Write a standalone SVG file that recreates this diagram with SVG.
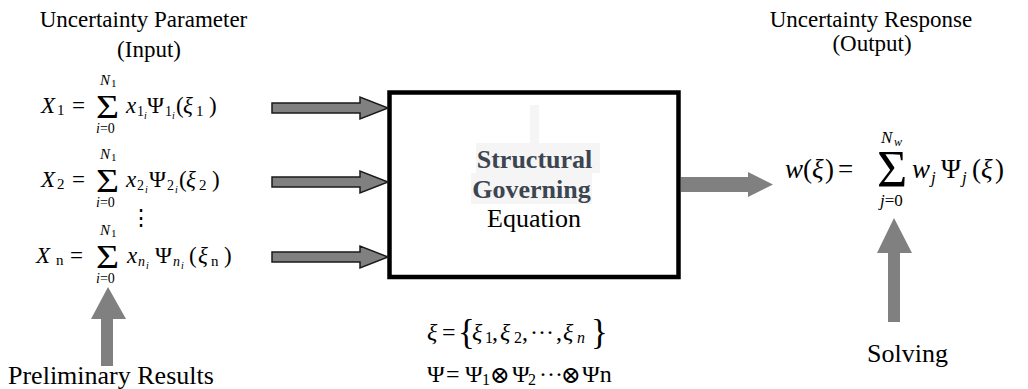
<svg xmlns="http://www.w3.org/2000/svg" width="1028" height="389" viewBox="0 0 1028 389">
<style>
.t{font-family:"Liberation Serif","Times New Roman",serif;fill:#000}
.i{font-style:italic}
.s{font-family:"DejaVu Serif","Liberation Serif",serif;fill:#000}
.arr{fill:#808080}
.arrs{fill:#808080;stroke:#1a1a1a;stroke-width:1.5}
.hl{fill:#f5f5f5}
</style>
<rect width="1028" height="389" fill="#fff"/>
<g id="header-input">
<text class="t" x="143.5" y="27" font-size="23" text-anchor="middle">Uncertainty Parameter</text>
<text class="t" x="149" y="57" font-size="23" text-anchor="middle">(Input)</text>
</g>
<g id="header-output">
<text class="t" x="871" y="27" font-size="23" text-anchor="middle">Uncertainty Response</text>
<text class="t" x="872" y="51" font-size="23" text-anchor="middle">(Output)</text>
</g>
<g id="eq-x1" font-size="23">
<text class="t i" x="41" y="113">X</text>
<text class="t" x="57" y="115" font-size="15">1</text>
<text class="t" x="72" y="113">=</text>
<text class="t" transform="translate(96,118) scale(1.2,1)" font-size="33">Σ</text>
<text class="t i" x="100" y="85" font-size="15">N</text>
<text class="t" x="111" y="87" font-size="11">1</text>
<text class="t" x="96" y="133" font-size="14"><tspan class="i">i</tspan>=0</text>
<text class="t i" x="126" y="113">x</text>
<text class="t" x="137" y="116" font-size="14">1</text>
<text class="t i" x="144" y="119" font-size="10">i</text>
<text class="t" x="147" y="113">Ψ</text>
<text class="t" x="165" y="116" font-size="14">1</text>
<text class="t i" x="172" y="119" font-size="10">i</text>
<text class="t" x="176" y="113">(</text>
<text class="t i" x="183" y="113">ξ</text>
<text class="t" x="196" y="116" font-size="15">1</text>
<text class="t" x="209" y="113">)</text>
</g>
<g id="eq-x2" font-size="23">
<text class="t i" x="41" y="187">X</text>
<text class="t" x="57" y="189" font-size="15">2</text>
<text class="t" x="72" y="187">=</text>
<text class="t" transform="translate(96,192) scale(1.2,1)" font-size="33">Σ</text>
<text class="t i" x="100" y="159" font-size="15">N</text>
<text class="t" x="111" y="161" font-size="11">1</text>
<text class="t" x="96" y="207" font-size="14"><tspan class="i">i</tspan>=0</text>
<text class="t i" x="126" y="187">x</text>
<text class="t" x="137" y="190" font-size="14">2</text>
<text class="t i" x="145" y="193" font-size="10">i</text>
<text class="t" x="149" y="187">Ψ</text>
<text class="t" x="167" y="190" font-size="14">2</text>
<text class="t i" x="175" y="193" font-size="10">i</text>
<text class="t" x="179" y="187">(</text>
<text class="t i" x="186" y="187">ξ</text>
<text class="t" x="199" y="190" font-size="15">2</text>
<text class="t" x="212" y="187">)</text>
</g>
<g id="vdots">
<text class="s" x="130" y="225" font-size="22">⋮</text>
</g>
<g id="eq-xn" font-size="23">
<text class="t i" x="36" y="263">X</text>
<text class="t" x="56" y="265" font-size="15">n</text>
<text class="t" x="70" y="263">=</text>
<text class="t" transform="translate(96,268) scale(1.2,1)" font-size="33">Σ</text>
<text class="t i" x="100" y="235" font-size="15">N</text>
<text class="t" x="111" y="237" font-size="11">1</text>
<text class="t" x="96" y="283" font-size="14"><tspan class="i">i</tspan>=0</text>
<text class="t i" x="127" y="263">x</text>
<text class="t i" x="138" y="266" font-size="14">n</text>
<text class="t i" x="146" y="269" font-size="10">i</text>
<text class="t" x="155" y="263">Ψ</text>
<text class="t i" x="173" y="266" font-size="14">n</text>
<text class="t i" x="181" y="269" font-size="10">i</text>
<text class="t" x="189" y="263">(</text>
<text class="t i" x="198" y="263">ξ</text>
<text class="t" x="211" y="266" font-size="15">n</text>
<text class="t" x="224" y="263">)</text>
</g>
<g id="box">
<rect class="hl" x="530" y="105" width="9" height="38"/>
<rect class="hl" x="476" y="143" width="124" height="30"/>
<rect class="hl" x="471" y="173" width="121" height="31"/>
<rect x="389.5" y="92.5" width="289" height="184.5" fill="none" stroke="#000" stroke-width="4.5"/>
<text class="t" x="534.5" y="168" font-size="26" font-weight="bold" text-anchor="middle" style="fill:#3c4550">Structural</text>
<text class="t" x="531.5" y="198" font-size="26" font-weight="bold" text-anchor="middle" style="fill:#3c4550">Governing</text>
<text class="t" x="534" y="227" font-size="26" text-anchor="middle">Equation</text>
</g>
<g id="eq-output" font-size="27">
<text class="t i" x="785" y="178">w</text>
<text class="t" x="803" y="178">(</text>
<text class="t i" x="812" y="178">ξ</text>
<text class="t" x="825" y="178">)</text>
<text class="t" x="838" y="178">=</text>
<text class="t" x="877" y="187" font-size="52">Σ</text>
<text class="t i" x="881" y="143" font-size="17">N</text>
<text class="t i" x="894" y="146" font-size="12">w</text>
<text class="t" x="880" y="206" font-size="17"><tspan class="i">j</tspan>=0</text>
<text class="t i" x="912" y="178">w</text>
<text class="t i" x="931" y="183" font-size="17">j</text>
<text class="t" x="941" y="178">Ψ</text>
<text class="t i" x="962" y="183" font-size="17">j</text>
<text class="t" x="972" y="178">(</text>
<text class="t i" x="981" y="178">ξ</text>
<text class="t" x="995" y="178">)</text>
</g>
<g id="eq-basis" font-size="24">
<text class="t i" x="427" y="340">ξ</text>
<text class="t" x="442" y="340">=</text>
<text class="t" x="458" y="344" font-size="35">{</text>
<text class="t i" x="472" y="340">ξ</text>
<text class="t" x="485" y="343" font-size="16">1</text>
<text class="t" x="492" y="340">,</text>
<text class="t i" x="500" y="340">ξ</text>
<text class="t" x="514" y="343" font-size="16">2</text>
<text class="t" x="522" y="340">,</text>
<text class="t" x="530" y="340">···</text>
<text class="t" x="556" y="340">,</text>
<text class="t i" x="563" y="340">ξ</text>
<text class="t i" x="577" y="343" font-size="16">n</text>
<text class="t" x="591" y="344" font-size="35">}</text>
<text class="t" x="427" y="382">Ψ</text>
<text class="t" x="446" y="382">=</text>
<text class="t" x="465" y="382">Ψ</text>
<text class="t" x="482" y="385" font-size="16">1</text>
<text class="s" x="490" y="383" font-size="24">⊗</text>
<text class="t" x="512" y="382">Ψ</text>
<text class="t" x="528" y="385" font-size="16">2</text>
<text class="t" x="539" y="382">···</text>
<text class="s" x="561" y="383" font-size="24">⊗</text>
<text class="t" x="582" y="382">Ψn</text>
</g>
<g id="label-preliminary">
<text class="t" x="8" y="384" font-size="26">Preliminary Results</text>
</g>
<g id="label-solving">
<text class="t" x="867" y="362" font-size="26">Solving</text>
</g>
<g id="connectors">
<path class="arrs" d="M272,103 H360 V97 L388,108 L360,119 V113 H272 Z"/>
<path class="arrs" d="M272,177 H360 V171 L388,182 L360,193 V187 H272 Z"/>
<path class="arrs" d="M272,252 H360 V246 L388,257 L360,268 V262 H272 Z"/>
<path class="arr" d="M681,177 H748 V172 L773,184.5 L748,197 V192 H681 Z"/>
<path class="arr" d="M101,366 V319 H91 L108,287 L126,319 H113 V366 Z"/>
<path class="arr" d="M888,322 V253 H877 L894,218 L912,253 H900 V322 Z"/>
</g>
</svg>
